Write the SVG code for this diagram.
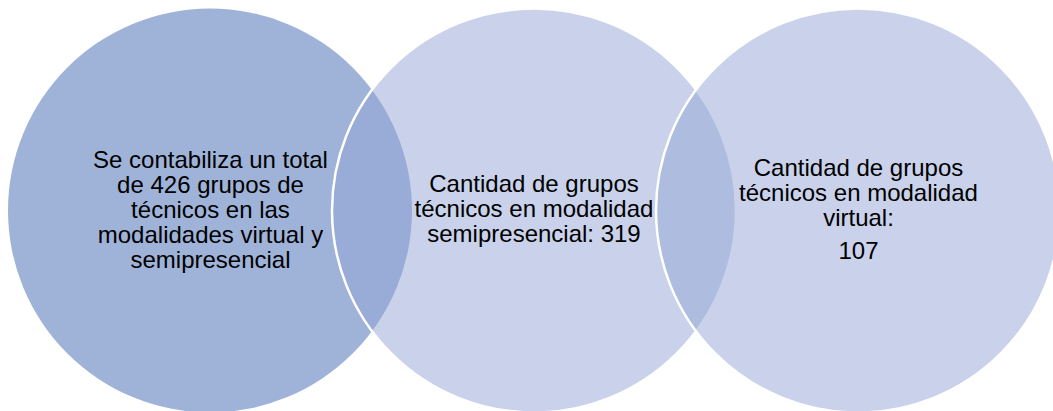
<svg xmlns="http://www.w3.org/2000/svg" width="1053" height="411" viewBox="0 0 1053 411">
<style>
.c1{fill:#9FB3D8;}
.cv{fill:#93A5D5;fill-opacity:0.5;stroke:#FFFFFF;stroke-width:2.5;}
text{font-family:"Liberation Sans",Arial,sans-serif;font-size:24px;fill:#000000;text-anchor:middle;}
</style>
<rect width="1053" height="411" fill="#FFFFFF"/>
<g id="node1">
<circle class="c1" cx="210" cy="210.5" r="202"/>
<text x="210.5"><tspan x="210.5" y="168">Se contabiliza un total</tspan><tspan x="210.5" y="193">de 426 grupos de</tspan><tspan x="210.5" y="218">técnicos en las</tspan><tspan x="210.5" y="243">modalidades virtual y</tspan><tspan x="210.5" y="268">semipresencial</tspan></text>
</g>
<g id="node2">
<circle class="cv" cx="534" cy="210.5" r="202"/>
<text x="534"><tspan x="534" y="192">Cantidad de grupos</tspan><tspan x="534" y="217">técnicos en modalidad</tspan><tspan x="534" y="242">semipresencial: 319</tspan></text>
</g>
<g id="node3">
<circle class="cv" cx="858" cy="210.5" r="202"/>
<text x="858.5"><tspan x="858.5" y="176">Cantidad de grupos</tspan><tspan x="858.5" y="201">técnicos en modalidad</tspan><tspan x="858.5" y="226">virtual:</tspan><tspan x="858.5" y="259">107</tspan></text>
</g>
<g id="connectors"/>
</svg>
